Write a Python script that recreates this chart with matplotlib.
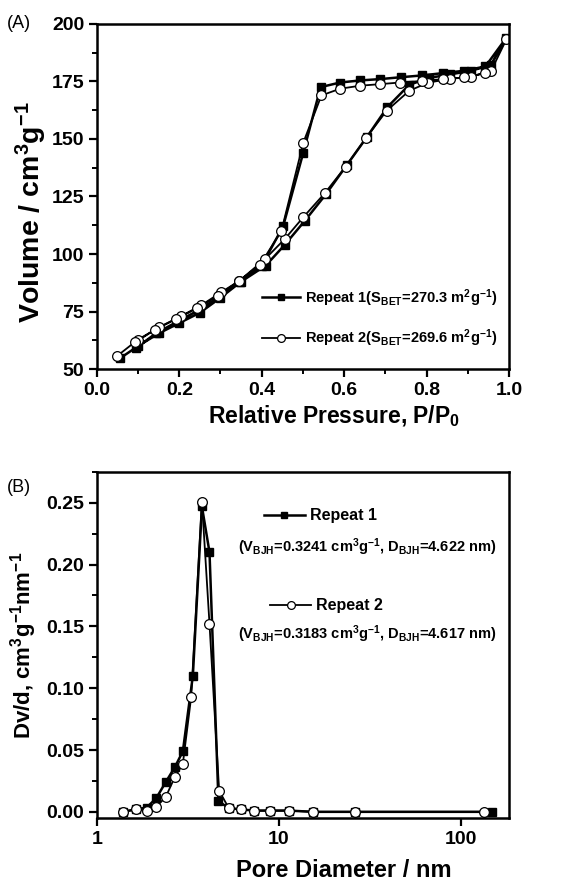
import numpy as np
import matplotlib.pyplot as plt
from matplotlib.ticker import MultipleLocator, NullLocator, FixedLocator

plt.rcParams['font.family'] = ['Liberation Sans', 'DejaVu Sans']
plt.rcParams['font.weight'] = 'bold'
plt.rcParams['axes.labelweight'] = 'bold'
plt.rcParams['mathtext.fontset'] = 'custom'
plt.rcParams['mathtext.rm'] = 'Liberation Sans:bold'
plt.rcParams['mathtext.bf'] = 'Liberation Sans:bold'
plt.rcParams['mathtext.default'] = 'bf'

# (A) N2 isotherms: adsorption branch then desorption branch
p_rep1 = [0.057, 0.10, 0.15, 0.20, 0.25, 0.30, 0.35, 0.41, 0.456, 0.505, 0.556, 0.606, 0.656, 0.705, 0.758, 0.806, 0.856, 0.907, 0.956, 0.994,
          0.943, 0.891, 0.840, 0.790, 0.737, 0.688, 0.638, 0.590, 0.543, 0.501, 0.452, 0.400, 0.348, 0.297, 0.246, 0.194, 0.143, 0.094]
v_rep1 = [54.8, 60.0, 65.5, 70.0, 74.5, 81.0, 88.0, 95.0, 104.0, 114.5, 126.0, 138.5, 151.0, 163.8, 173.5, 176.5, 178.0, 179.6, 182.0, 194.0,
          181.5, 179.6, 178.6, 177.6, 176.8, 176.0, 175.4, 174.5, 172.5, 144.1, 112.0, 95.0, 88.0, 81.5, 75.5, 70.5, 65.5, 59.0]
p_rep2 = [0.050, 0.099, 0.151, 0.203, 0.253, 0.301, 0.346, 0.408, 0.456, 0.501, 0.553, 0.604, 0.654, 0.703, 0.758, 0.804, 0.856, 0.907, 0.956, 0.994,
          0.943, 0.891, 0.840, 0.790, 0.735, 0.687, 0.638, 0.590, 0.545, 0.501, 0.448, 0.396, 0.346, 0.295, 0.244, 0.192, 0.141, 0.093]
v_rep2 = [55.8, 62.7, 68.2, 72.9, 77.7, 83.3, 88.4, 97.8, 106.5, 116.0, 126.4, 138.0, 150.6, 162.2, 170.9, 174.5, 176.0, 177.1, 179.3, 193.3,
          178.6, 176.7, 176.0, 175.2, 174.5, 173.8, 173.1, 171.8, 168.9, 148.4, 110.1, 95.3, 88.4, 81.9, 76.5, 71.7, 67.1, 61.6]

# (B) BJH pore size distribution
d_rep1 = [1.39, 1.64, 1.88, 2.12, 2.39, 2.68, 2.97, 3.37, 3.78, 4.16, 4.66, 5.31, 6.18, 7.32, 8.89, 11.35, 15.5, 26.1, 149.0]
dv_rep1 = [0.000, 0.002, 0.0035, 0.011, 0.024, 0.036, 0.049, 0.110, 0.247, 0.210, 0.0086, 0.003, 0.002, 0.001, 0.001, 0.001, 0.000, 0.000, 0.000]
d_rep2 = [1.39, 1.64, 1.88, 2.12, 2.39, 2.68, 2.97, 3.30, 3.78, 4.16, 4.70, 5.31, 6.18, 7.32, 8.89, 11.35, 15.5, 26.1, 134.0]
dv_rep2 = [0.000, 0.002, 0.001, 0.004, 0.012, 0.028, 0.039, 0.093, 0.251, 0.152, 0.017, 0.003, 0.002, 0.001, 0.001, 0.001, 0.000, 0.000, 0.000]

fig = plt.figure(figsize=(5.87, 8.83), dpi=100)
axA = fig.add_axes([0.165, 0.582, 0.702, 0.391])
axB = fig.add_axes([0.165, 0.0736, 0.702, 0.392])

sq = dict(color='black', lw=1.8, marker='s', ms=5.5, mfc='black', mec='black')
ci = dict(color='black', lw=1.3, marker='o', ms=7, mfc='white', mec='black', mew=0.9)

h1, = axA.plot(p_rep1, v_rep1, **sq)
h2, = axA.plot(p_rep2, v_rep2, **ci)
axA.set_xlim(0, 1.0)
axA.set_ylim(50, 200)
axA.xaxis.set_major_locator(MultipleLocator(0.2))
axA.xaxis.set_minor_locator(MultipleLocator(0.1))
axA.yaxis.set_major_locator(MultipleLocator(25))
axA.yaxis.set_minor_locator(MultipleLocator(12.5))
axA.set_xlabel('Relative Pressure, P/P$_0$', fontsize=16.5, labelpad=3, x=0.575)
axA.set_ylabel('Volume / cm$^3$g$^{-1}$', fontsize=20.5, labelpad=2, y=0.455)
axA.legend([h1, h2], ['Repeat 1(S$_{BET}$=270.3 m$^2$g$^{-1}$)',
                      'Repeat 2(S$_{BET}$=269.6 m$^2$g$^{-1}$)'],
           loc='lower left', bbox_to_anchor=(0.37, 0.02), frameon=False,
           fontsize=10.5, handlelength=2.6, labelspacing=1.3, handletextpad=0.3,
           markerscale=0.8)

b1, = axB.plot(d_rep1, dv_rep1, **sq)
b2, = axB.plot(d_rep2, dv_rep2, **ci)
axB.set_xscale('log')
axB.set_xlim(1, 184)
axB.set_ylim(-0.005, 0.275)
axB.xaxis.set_major_locator(FixedLocator([1, 10, 100]))
axB.set_xticklabels(['1', '10', '100'])
axB.xaxis.set_minor_locator(NullLocator())
axB.yaxis.set_major_locator(MultipleLocator(0.05))
axB.yaxis.set_minor_locator(MultipleLocator(0.025))
axB.yaxis.set_major_formatter(plt.FormatStrFormatter('%.2f'))
axB.set_xlabel('Pore Diameter / nm', fontsize=17, labelpad=8, x=0.60)
axB.set_ylabel('Dv/d, cm$^3$g$^{-1}$nm$^{-1}$', fontsize=16, labelpad=5)

lg1 = axB.legend([b1], ['Repeat 1'], loc='center left', bbox_to_anchor=(0.37, 0.873),
                 frameon=False, fontsize=11.5, handlelength=2.6, handletextpad=0.3,
                 markerscale=0.8)
axB.add_artist(lg1)
axB.legend([b2], ['Repeat 2'], loc='center left', bbox_to_anchor=(0.385, 0.613),
           frameon=False, fontsize=11.5, handlelength=2.6, handletextpad=0.3,
           markerscale=0.8)
axB.text(0.655, 0.783, '(V$_{BJH}$=0.3241 cm$^3$g$^{-1}$, D$_{BJH}$=4.622 nm)',
         transform=axB.transAxes, ha='center', va='center', fontsize=10.5)
axB.text(0.655, 0.532, '(V$_{BJH}$=0.3183 cm$^3$g$^{-1}$, D$_{BJH}$=4.617 nm)',
         transform=axB.transAxes, ha='center', va='center', fontsize=10.5)

for ax in (axA, axB):
    for s in ax.spines.values():
        s.set_linewidth(1.8)
    ax.tick_params(which='major', direction='out', length=6, width=1.6, labelsize=14, pad=3)
    ax.tick_params(which='minor', direction='out', length=3.5, width=1.4)

fig.text(0.012, 0.973, '(A)', fontsize=13, fontweight='normal', va='center')
fig.text(0.012, 0.448, '(B)', fontsize=13, fontweight='normal', va='center')

fig.savefig('out.png', dpi=100)
